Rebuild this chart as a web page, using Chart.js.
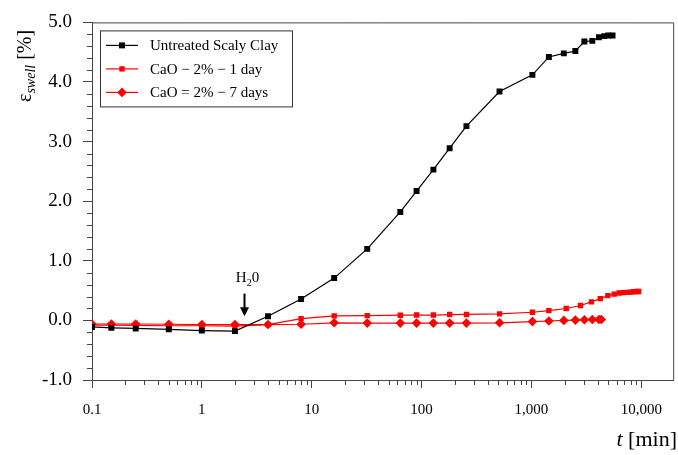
<!DOCTYPE html>
<html>
<head>
<meta charset="utf-8">
<script src="https://cdn.jsdelivr.net/npm/chart.js@4/dist/chart.umd.min.js"></script>
<style>
  html, body { margin: 0; padding: 0; background: #fff; }
  #wrap { position: relative; width: 678px; height: 455px; }
</style>
</head>
<body>
<div id="wrap"><canvas id="chart"></canvas></div>
<script>
/* globals Chart */
"use strict";

// Untreated Scaly Clay
const untreatedTime = [0.1, 0.15, 0.25, 0.5, 1, 2, 4, 8, 16, 32, 64, 90, 128, 180, 256, 512,
    1020, 1440, 1970, 2510, 3030, 3580, 4110, 4600, 5000, 5470];
const untreatedSwell = [-0.11, -0.125, -0.135, -0.15, -0.17, -0.18, 0.07, 0.36, 0.71, 1.20, 1.82, 2.17,
    2.53, 2.89, 3.26, 3.84, 4.12, 4.42, 4.48, 4.52, 4.68, 4.69, 4.75, 4.77, 4.78, 4.78];

// CaO - 2% - 1 day
const oneDayTime = [0.1, 0.15, 0.25, 0.5, 1, 2, 4, 8, 16, 32, 64, 90, 128, 180, 256, 512,
    1020, 1440, 2070, 2790, 3510, 4230, 4960, 5660, 6280, 6870, 7420, 7950, 8520, 9140, 9450];
const oneDaySwell = [-0.08, -0.08, -0.085, -0.09, -0.09, -0.095, -0.07, 0.03, 0.075, 0.08, 0.087, 0.09,
    0.09, 0.098, 0.10, 0.11, 0.137, 0.165, 0.20, 0.25, 0.31, 0.365, 0.415, 0.44, 0.46, 0.465,
    0.47, 0.475, 0.48, 0.485, 0.485];

// CaO = 2% - 7 days
const sevenDayTime = [0.1, 0.15, 0.25, 0.5, 1, 2, 4, 8, 16, 32, 64, 90, 128, 180, 256, 512,
    1020, 1440, 1970, 2510, 3030, 3580, 4110, 4320];
const sevenDaySwell = [-0.06, -0.06, -0.06, -0.065, -0.07, -0.07, -0.07, -0.065, -0.04, -0.045, -0.045,
    -0.045, -0.045, -0.045, -0.045, -0.04, -0.02, -0.01, 0, 0.005, 0.01, 0.015, 0.015, 0.015];

const seriesLabels = ['Untreated Scaly Clay', 'CaO \u2212 2% \u2212 1 day', 'CaO = 2% \u2212 7 days'];

const xDecades = [0.1, 1, 10, 100, 1000, 10000];
const yTicks = [-1, 0, 1, 2, 3, 4, 5];

// water added (arrow annotation)
const waterTime = 2.4;
const waterArrowTop = 0.45;
const waterArrowTip = 0.07;
const waterLabelY = 0.64;

const SERIF = '"Liberation Serif", "Times New Roman", serif';
const AXIS_COLOR = '#444';

function toPoints(xs, ys) {
    return xs.map((x, i) => ({ x: x, y: ys[i] }));
}

const decorations = {
    id: 'decorations',
    afterDraw(chart) {
        const ctx = chart.ctx;
        const area = chart.chartArea;
        const xs = chart.scales.x;
        const ys = chart.scales.y;

        ctx.save();
        ctx.strokeStyle = AXIS_COLOR;
        ctx.lineWidth = 1;

        // top and right frame
        ctx.beginPath();
        ctx.moveTo(area.left, area.top + 0.5);
        ctx.lineTo(area.right + 0.5, area.top + 0.5);
        ctx.lineTo(area.right + 0.5, area.bottom);
        ctx.stroke();

        // minor ticks on log axis
        ctx.beginPath();
        xDecades.forEach(d => {
            for (let k = 2; k <= 9; k++) {
                const v = d * k;
                if (v > xs.max) { continue; }
                const px = Math.round(xs.getPixelForValue(v)) + 0.5;
                ctx.moveTo(px, area.bottom);
                ctx.lineTo(px, area.bottom + 5);
            }
        });
        // minor ticks on y axis
        for (let i = 0; i <= 30; i++) {
            if (i % 5 === 0) { continue; }
            const v = ys.min + i * 0.2;
            const py = Math.round(ys.getPixelForValue(v)) + 0.5;
            ctx.moveTo(area.left - 5, py);
            ctx.lineTo(area.left, py);
        }
        ctx.stroke();

        // legend
        const lx = area.left + 8, ly = area.top + 8, lw = 192, lh = 76;
        ctx.strokeStyle = '#333';
        ctx.strokeRect(lx + 0.5, ly + 0.5, lw, lh);
        ctx.font = '15px ' + SERIF;
        ctx.textBaseline = 'middle';
        ctx.textAlign = 'left';
        chart.data.datasets.forEach((ds, i) => {
            const rowY = ly + 15 + i * 23.5;
            ctx.strokeStyle = ds.borderColor;
            ctx.lineWidth = ds.borderWidth;
            ctx.beginPath();
            ctx.moveTo(lx + 6, rowY);
            ctx.lineTo(lx + 38, rowY);
            ctx.stroke();
            ctx.fillStyle = ds.pointBackgroundColor;
            Chart.helpers.drawPoint(ctx, {
                pointStyle: ds.pointStyle, radius: ds.pointRadius, rotation: 0, borderWidth: 0
            }, lx + 22, rowY);
            ctx.fillStyle = '#000';
            ctx.fillText(ds.label, lx + 50, rowY + 1);
        });

        // y title: epsilon_swell [%]
        ctx.save();
        ctx.translate(31, 102);
        ctx.rotate(-Math.PI / 2);
        ctx.textBaseline = 'alphabetic';
        ctx.fillStyle = '#000';
        ctx.font = '20px ' + SERIF;
        ctx.fillText('\u03b5', 0, 0);
        let w = ctx.measureText('\u03b5').width;
        ctx.font = 'italic 14px ' + SERIF;
        ctx.fillText('swell', w, 4);
        w += ctx.measureText('swell').width + 5;
        ctx.font = '20px ' + SERIF;
        ctx.fillText('[%]', w, 0);
        ctx.restore();

        // x title: t [min]
        ctx.textBaseline = 'alphabetic';
        ctx.textAlign = 'right';
        ctx.font = '22px ' + SERIF;
        ctx.fillText('[min]', 677, 446);
        const mw = ctx.measureText(' [min]').width;
        ctx.font = 'italic 22px ' + SERIF;
        ctx.fillText('t', 677 - mw, 446);

        // water arrow and H2O label
        const ax = Math.round(xs.getPixelForValue(waterTime)) + 0.5;
        const top = ys.getPixelForValue(waterArrowTop);
        const tip = ys.getPixelForValue(waterArrowTip);
        ctx.strokeStyle = '#000';
        ctx.lineWidth = 2;
        ctx.beginPath();
        ctx.moveTo(ax, top);
        ctx.lineTo(ax, tip - 6);
        ctx.stroke();
        ctx.fillStyle = '#000';
        ctx.beginPath();
        ctx.moveTo(ax - 4.5, tip - 9);
        ctx.lineTo(ax + 4.5, tip - 9);
        ctx.lineTo(ax, tip);
        ctx.closePath();
        ctx.fill();

        const base = ys.getPixelForValue(waterLabelY);
        ctx.textAlign = 'left';
        ctx.font = '15px ' + SERIF;
        const hw = ctx.measureText('H').width;
        const ow = ctx.measureText('0').width;
        ctx.font = '10px ' + SERIF;
        const sw = ctx.measureText('2').width;
        let tx = ax + 3 - (hw + sw + ow) / 2;
        ctx.font = '15px ' + SERIF;
        ctx.fillText('H', tx, base);
        tx += hw;
        ctx.font = '10px ' + SERIF;
        ctx.fillText('2', tx, base + 4);
        tx += sw;
        ctx.font = '15px ' + SERIF;
        ctx.fillText('0', tx, base);

        ctx.restore();
    }
};

new Chart(document.getElementById('chart'), {
    type: 'line',
    data: {
        datasets: [
            {
                label: seriesLabels[0],
                data: toPoints(untreatedTime, untreatedSwell),
                borderColor: '#000',
                backgroundColor: '#000',
                pointBackgroundColor: '#000',
                pointBorderWidth: 0,
                pointStyle: 'rect',
                pointRadius: 4.2,
                borderWidth: 1.2,
                order: 1
            },
            {
                label: seriesLabels[1],
                data: toPoints(oneDayTime, oneDaySwell),
                borderColor: '#ff0000',
                backgroundColor: '#ff0000',
                pointBackgroundColor: '#ff0000',
                pointBorderWidth: 0,
                pointStyle: 'rect',
                pointRadius: 3.8,
                borderWidth: 1.2,
                order: 3
            },
            {
                label: seriesLabels[2],
                data: toPoints(sevenDayTime, sevenDaySwell),
                borderColor: '#ff0000',
                backgroundColor: '#ff0000',
                pointBackgroundColor: '#ff0000',
                pointBorderWidth: 0,
                pointStyle: 'rectRot',
                pointRadius: 4.8,
                borderWidth: 1.2,
                order: 2
            }
        ]
    },
    options: {
        responsive: true,
        maintainAspectRatio: false,
        animation: false,
        layout: { padding: { top: 19, right: 2, left: 0, bottom: 0 } },
        plugins: {
            legend: { display: false },
            tooltip: { enabled: false }
        },
        scales: {
            x: {
                type: 'logarithmic',
                min: 0.1,
                max: 19500,
                afterBuildTicks: scale => {
                    scale.ticks = xDecades.map(v => ({ value: v }));
                },
                afterFit: scale => { scale.height = 75; },
                ticks: {
                    autoSkip: false,
                    maxRotation: 0,
                    padding: 13,
                    color: '#000',
                    font: { family: SERIF, size: 15 },
                    callback: v => v >= 1000 ? v.toLocaleString('en-US') : String(v)
                },
                grid: { drawOnChartArea: false, tickLength: 8, color: AXIS_COLOR },
                border: { color: AXIS_COLOR, width: 1 }
            },
            y: {
                min: -1,
                max: 5,
                afterBuildTicks: scale => {
                    scale.ticks = yTicks.map(v => ({ value: v }));
                },
                afterFit: scale => { scale.width = 92; },
                ticks: {
                    padding: 11,
                    color: '#000',
                    font: { family: SERIF, size: 19 },
                    callback: v => v.toFixed(1)
                },
                grid: { drawOnChartArea: false, tickLength: 9, color: AXIS_COLOR },
                border: { color: AXIS_COLOR, width: 1 }
            }
        }
    },
    plugins: [decorations]
});
</script>
</body>
</html>
